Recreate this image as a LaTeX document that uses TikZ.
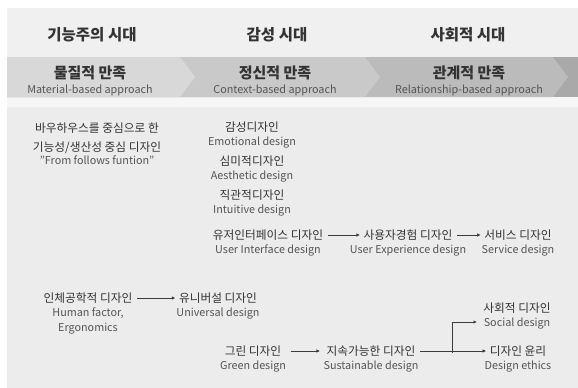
\documentclass[tikz,border=0pt]{standalone}
\usepackage{fontspec}
\setmainfont{Noto Sans CJK KR}
\usetikzlibrary{arrows.meta,positioning}

\definecolor{pagegray}{HTML}{ECECEC}
\definecolor{headgray}{HTML}{F0F0F0}
\definecolor{stripgray}{HTML}{F6F6F6}
\definecolor{sega}{HTML}{D8D8D8}
\definecolor{segb}{HTML}{C9C9C9}
\definecolor{segc}{HTML}{BBBBBB}
\definecolor{segd}{HTML}{A9A9A9}
\definecolor{kortext}{HTML}{333333}
\definecolor{engtext}{HTML}{555555}
\definecolor{arrowgray}{HTML}{3C3C3C}

\begin{document}
\begin{tikzpicture}[x=1pt,y=-1pt,
		era/.style={font=\bfseries\fontsize{15.5}{17}\selectfont,text=kortext},
		band/.style={font=\bfseries\fontsize{15}{17}\selectfont,text=kortext,inner sep=1pt,
			label distance=1pt,every label/.style={font=\fontsize{11.3}{14}\selectfont,text=engtext,inner sep=1pt}},
		kor/.style={font=\fontsize{11.7}{14}\selectfont,text=kortext,inner sep=1.5pt},
		every label/.style={font=\fontsize{10.8}{15}\selectfont,text=engtext,inner sep=1pt,align=center},
		label distance=2pt,
		flow/.style={draw=arrowgray,line width=0.8pt,shorten <=3pt,shorten >=2pt,-{Latex[length=3.5pt,width=3.5pt]}}]
		\def \tip {15}
		
		% background
		\useasboundingbox (0,0) rectangle (578,388);
		\fill[white] (0,0) rectangle (578,388);
		\fill[pagegray] (7,8) rectangle (578,388);
		\fill[headgray] (7,8) rectangle (578,57);
		\fill[stripgray] (7,97) rectangle (578,107);
		
		% chevron band
		\fill[segd] (7,57) rectangle (578,97);
		\foreach \b/\c in {553/segc,365/segb,180/sega}
		\fill[\c] (7,57) -- (\b,57) -- (\b+\tip,77) -- (\b,97) -- (7,97) -- cycle;
		
		\node[era] (e1) at (92,35) {기능주의 시대};
		\node[era] (e2) at (277,35) {감성 시대};
		\node[era] (e3) at (468,35) {사회적 시대};
		
		\node[band] (m1) at (90,73) [label={below:Material-based approach}] {물질적 만족};
		\node[band] (m2) at (275,73) [label={below:Context-based approach}] {정신적 만족};
		\node[band] (m3) at (469,73) [label={below:Relationship-based approach}] {관계적 만족};
		
		% first column
		\node[kor,align=center] (bh) at (97,144)
		{바우하우스를 중심으로 한\\[5pt]기능성/생산성 중심 디자인\\[-1pt]{\fontsize{10.8}{12}\selectfont\color{engtext}"From follows funtion"}};
		
		\node[kor] (emo) at (252,127) [label=below:Emotional design] {감성디자인};
		\node[kor] (aes) at (252,161) [label=below:Aesthetic design] {심미적디자인};
		\node[kor] (int) at (252,195) [label=below:Intuitive design] {직관적디자인};
		
		\node[kor] (ui) at (268,235) [label=below:User Interface design] {유저인터페이스 디자인};
		\node[kor] (ux) at (408,235) [label=below:User Experience design] {사용자경험 디자인};
		\node[kor] (svc) at (518,235) [label=below:Service design] {서비스 디자인};
		
		\node[kor] (hf) at (88,298) [label={below:Human factor,\\Ergonomics}] {인체공학적 디자인};
		\node[kor] (univ) at (218,298) [label=below:Universal design] {유니버설 디자인};
		
		\node[kor] (green) at (253,351) [label=below:Green design] {그린 디자인};
		\node[kor] (sus) at (371,351) [label=below:Sustainable design] {지속가능한 디자인};
		
		\node[kor] (soc) at (517,308) [label=below:Social design] {사회적 디자인};
		\node[kor] (eth) at (518,351) [label=below:Design ethics] {디자인 윤리};
		
		\coordinate (split) at (452,353);
		\coordinate (socin) at (477,322);
		
		\draw[flow] (ui) to (ux);
		\draw[flow] (ux) to (svc);
		\draw[flow] (hf) to (univ);
		\draw[flow,shorten <=8pt,shorten >=5pt] (green) to (sus);
		\draw[flow] (sus) to (eth);
		\draw[flow,shorten <=0pt,shorten >=0pt] (split) |- (socin);
		\end{tikzpicture}
\end{document}
